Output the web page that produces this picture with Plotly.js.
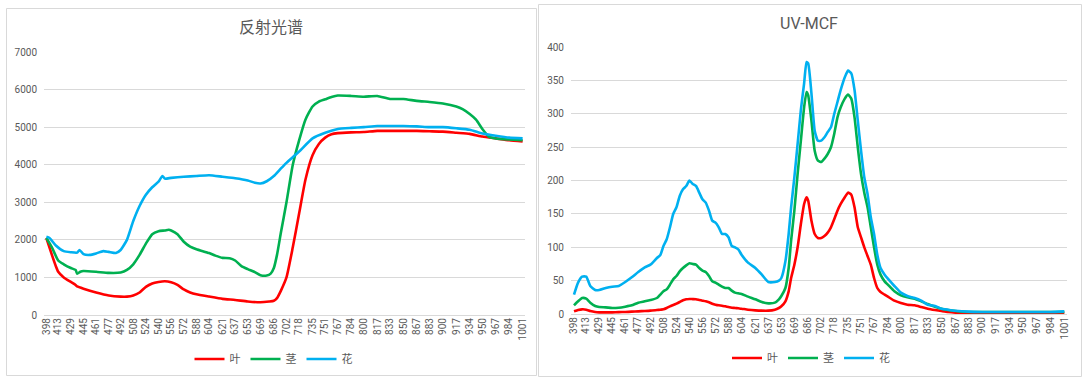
<!DOCTYPE html>
<html>
<head>
<meta charset="utf-8">
<script src="https://cdn.plot.ly/plotly-3.0.1.min.js"></script>
<style>html,body{margin:0;padding:0;background:#fff;}#chart{width:1086px;height:382px;}</style>
</head>
<body>
<div id="chart"></div>
<script>
// ---------- tick labels (wavelength, nm) ----------
const tickLabels = [398,413,429,445,461,477,492,508,524,540,556,572,588,604,621,637,653,669,686,702,718,735,751,767,784,800,817,833,850,867,883,900,917,934,950,967,984,1001];
const seriesNames = ['叶','茎','花'];

// ---------- 反射光谱 (reflectance) ----------
const reflLeafWl = [398,405,410,413,420,429,435,437,445,461,477,492,500,508,516,524,532,540,548,556,564,572,580,588,604,621,637,653,669,680,686,690,695,702,710,718,726,735,743,751,759,767,784,800,817,833,850,867,883,900,917,934,950,967,984,1001];
const reflLeaf   = [2050,1600,1300,1150,1000,880,800,760,700,600,520,490,490,520,600,750,840,880,900,870,800,680,600,550,490,430,400,360,340,360,380,450,650,1000,1800,2700,3600,4250,4550,4720,4810,4840,4860,4870,4900,4900,4900,4900,4890,4880,4850,4820,4750,4700,4650,4620];

const reflStemWl = [398,405,413,420,429,435,437,441,445,461,477,492,500,508,516,524,532,540,548,553,556,564,572,580,588,604,612,621,630,637,645,653,661,669,677,682,686,690,695,702,710,718,726,735,743,751,759,767,784,800,817,833,850,867,883,900,917,925,934,942,950,958,967,984,1001];
const reflStem   = [2050,1800,1450,1350,1250,1200,1100,1150,1170,1150,1120,1130,1200,1350,1600,1900,2150,2230,2250,2270,2250,2150,1950,1820,1750,1650,1580,1520,1510,1450,1300,1220,1150,1060,1050,1100,1250,1600,2200,3000,4000,4650,5200,5550,5680,5740,5800,5840,5830,5810,5830,5750,5750,5700,5670,5630,5550,5480,5350,5200,4950,4750,4700,4670,4650];

const reflFlowerWl = [398,402,410,420,429,437,440,445,453,461,470,477,486,492,500,508,516,524,532,540,545,548,556,572,588,604,621,637,653,662,669,677,686,695,702,718,735,751,767,784,800,817,833,850,867,883,900,917,934,950,967,984,1001];
const reflFlower   = [2080,2050,1850,1700,1670,1660,1730,1620,1600,1640,1700,1680,1650,1730,2000,2500,2900,3200,3400,3550,3700,3630,3650,3680,3700,3720,3680,3640,3580,3520,3500,3560,3700,3900,4050,4350,4700,4850,4950,4980,5000,5030,5030,5030,5020,5000,5000,4970,4930,4830,4770,4720,4700];

// ---------- UV-MCF ----------
const mcfWl = [398,403,408,413,418,424,429,437,445,453,461,469,477,485,492,500,504,508,512,516,520,524,528,532,536,540,544,548,552,556,560,564,568,572,576,580,584,588,592,596,600,604,612,621,629,637,645,650,653,658,662,665,669,673,677,681,684,686,690,694,698,702,706,710,714,718,722,726,731,735,739,743,747,751,755,759,763,767,771,775,780,784,792,800,808,817,825,833,842,850,858,867,883,900,917,934,950,967,984,1001];
const mcfLeaf   = [4,6,7,6.5,4.5,3,2.5,2.5,2.5,2.8,3,3.5,4,4.5,5,6,6.5,7,9,11.5,13.5,15.5,18,20.5,22,22.6,22.3,22,21,20,19,17.6,15.5,14,13,12.5,11.5,10.5,9.5,9,8.5,8,6.5,5.5,5,5,6.5,9,11.5,19,34,54,74,100,135,165,175,170,140,120,114,114,117,122,130,142,155,165,175,182,179,160,130,115,100,87,74,54,39,33,29,26,20,16.5,14,13,10.5,8,6,4.5,3,2,1,0.5,0.5,0.5,0.5,0.8,1,1.5];
const mcfStem   = [13,19,24,23,17,12,10.5,10,9,9.5,11,13,17,19,21,24,29,34,37,44,52,57,64,69,73,76,75,74,69,65,63,57,49,47,44,41,39,39,35,32,31,30,26,22,18,16,17,22,27,39,69,110,155,210,260,310,333,328,290,245,230,228,233,240,250,270,295,310,323,329,323,295,250,210,182,160,130,100,74,59,49,44,34,28,25,23,19,15,11,8,6,4.5,3,3,3,3,3,3,3,3];
const mcfFlower = [29,47,56,56,42,36,36,39,41,42,48,55,63,70,74,84,88,102,112,130,150,160,177,187,192,200,195,192,182,172,167,155,140,137,130,120,120,115,102,100,97,89,77,69,59,48,48,50,54,79,120,160,205,255,306,346,378,376,331,275,260,260,265,273,280,300,318,336,355,365,361,336,290,245,205,180,145,120,89,69,59,53,42,32,27,24,20,14,12,8,6.5,5,3.5,3,3,3,3,3,3,4];

const RED = '#FF0000', GREEN = '#00B050', BLUE = '#00B0F0';
const colors = [RED, GREEN, BLUE];
const W = 1086, H = 382;
const px = v => v / W;
const py = v => (H - v) / H;
const FONT = 'Roboto, "Noto Sans CJK SC", sans-serif';
const GREY = '#595959', GRID = '#D9D9D9';

function line(x, y, name, color, xa, ya, lg) {
  return {x: x, y: y, name: name, type: 'scatter', mode: 'lines',
    line: {color: color, width: 2.6, shape: 'spline', smoothing: 0.5},
    xaxis: xa, yaxis: ya, legend: lg, hoverinfo: 'skip'};
}

const traces = [
  line(reflLeafWl, reflLeaf, seriesNames[0], colors[0], 'x', 'y', 'legend'),
  line(reflStemWl, reflStem, seriesNames[1], colors[1], 'x', 'y', 'legend'),
  line(reflFlowerWl, reflFlower, seriesNames[2], colors[2], 'x', 'y', 'legend'),
  line(mcfWl, mcfLeaf, seriesNames[0], colors[0], 'x2', 'y2', 'legend2'),
  line(mcfWl, mcfStem, seriesNames[1], colors[1], 'x2', 'y2', 'legend2'),
  line(mcfWl, mcfFlower, seriesNames[2], colors[2], 'x2', 'y2', 'legend2')
];

const xaxisBase = {
  type: 'linear', tickmode: 'array', tickvals: tickLabels, ticktext: tickLabels.map(String),
  tickangle: -90, showgrid: false, zeroline: false, showline: false, ticks: '',
  tickfont: {family: FONT, size: 10, color: GREY}, fixedrange: true
};
const yaxisBase = {
  showgrid: true, gridcolor: GRID, gridwidth: 1, zeroline: true, zerolinecolor: GRID, zerolinewidth: 1,
  showline: false, ticks: '', tickfont: {family: FONT, size: 10, color: GREY}, ticklabelstandoff: 6, fixedrange: true
};

const layout = {
  width: W, height: H,
  margin: {l: 0, r: 0, t: 0, b: 0},
  paper_bgcolor: '#fff', plot_bgcolor: '#fff',
  font: {family: FONT, color: GREY},
  xaxis: Object.assign({}, xaxisBase, {domain: [px(44), px(525)], range: [395, 1004], anchor: 'y'}),
  yaxis: Object.assign({}, yaxisBase, {domain: [py(315), py(52)], range: [0, 7000], dtick: 1000, anchor: 'x'}),
  xaxis2: Object.assign({}, xaxisBase, {domain: [px(571), px(1067)], range: [394.3, 1004.3], anchor: 'y2'}),
  yaxis2: Object.assign({}, yaxisBase, {domain: [py(314), py(47.3)], range: [0, 400], dtick: 50, anchor: 'x2'}),
  showlegend: true,
  legend: {orientation: 'h', x: px(273.5), xanchor: 'center', y: py(359), yanchor: 'middle',
    font: {family: FONT, size: 11, color: GREY}, itemwidth: 30, bgcolor: 'rgba(0,0,0,0)'},
  legend2: {orientation: 'h', x: px(811), xanchor: 'center', y: py(358), yanchor: 'middle',
    font: {family: FONT, size: 11, color: GREY}, itemwidth: 30, bgcolor: 'rgba(0,0,0,0)'},
  annotations: [
    {text: '反射光谱', xref: 'paper', yref: 'paper', x: px(271), y: py(28), xanchor: 'center', yanchor: 'middle',
     showarrow: false, font: {family: FONT, size: 16, color: GREY}},
    {text: 'UV-MCF', xref: 'paper', yref: 'paper', x: px(809), y: py(24), xanchor: 'center', yanchor: 'middle',
     showarrow: false, font: {family: FONT, size: 16, color: GREY}}
  ],
  shapes: [
    {type: 'rect', xref: 'paper', yref: 'paper', x0: px(6.5), x1: px(536.5), y0: py(375.5), y1: py(8.5),
     line: {color: GRID, width: 1}, layer: 'below'},
    {type: 'rect', xref: 'paper', yref: 'paper', x0: px(538.5), x1: px(1081.5), y0: py(376.5), y1: py(4.5),
     line: {color: GRID, width: 1}, layer: 'below'}
  ]
};

Plotly.newPlot('chart', traces, layout, {staticPlot: true, displayModeBar: false});
</script>
</body>
</html>
